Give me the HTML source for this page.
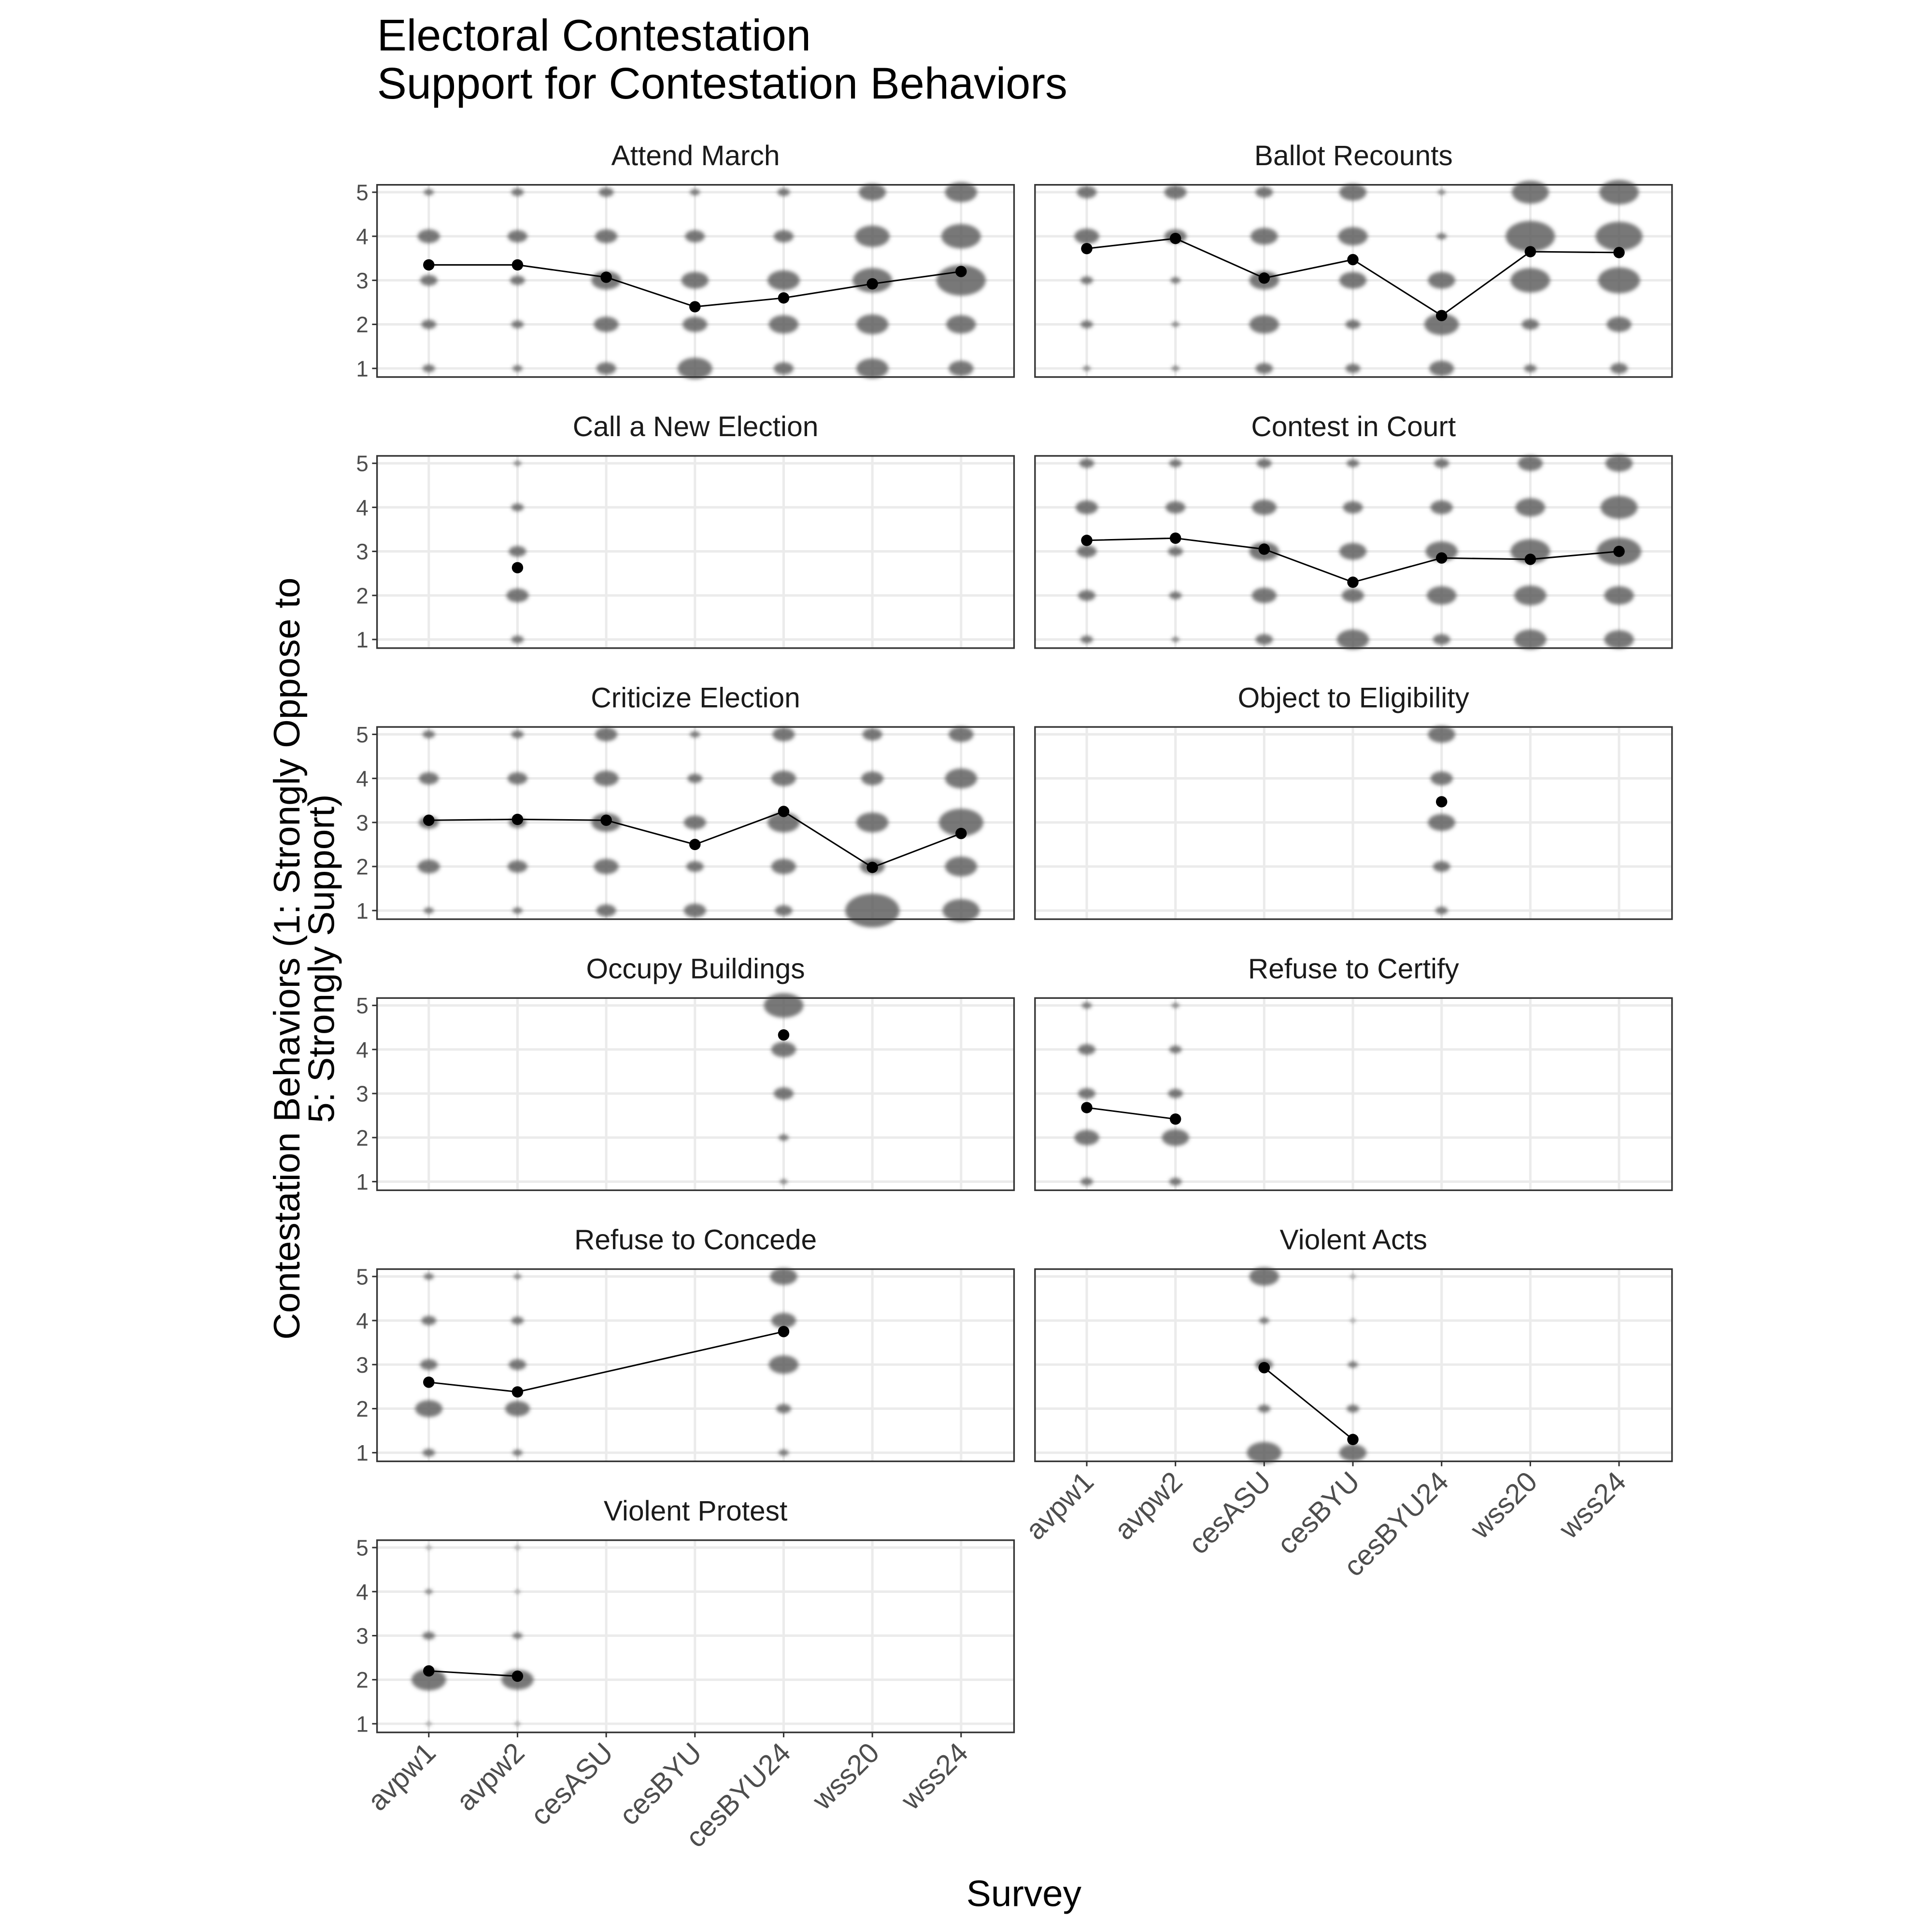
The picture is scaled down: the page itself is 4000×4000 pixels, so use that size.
<!DOCTYPE html>
<html><head><meta charset="utf-8"><style>html,body{margin:0;padding:0;background:#fff}svg{display:block}</style></head>
<body>
<svg id="chart" width="4000" height="4000" viewBox="0 0 1568 1568" xmlns="http://www.w3.org/2000/svg" font-family="Liberation Sans, Arial, sans-serif">
<defs><filter id="blur" x="-50%" y="-50%" width="200%" height="200%"><feGaussianBlur stdDeviation="1.6"/></filter></defs>
<rect width="1568" height="1568" fill="#fff"/>
<text x="306" y="41" font-size="36" fill="#000">Electoral Contestation</text>
<text x="306" y="80" font-size="36" fill="#000">Support for Contestation Behaviors</text>
<text x="831" y="1547" font-size="30" text-anchor="middle">Survey</text>
<g transform="translate(247,778) rotate(-90)">
<text x="0" y="-4" font-size="30" text-anchor="middle">Contestation Behaviors (1: Strongly Oppose to</text>
<text x="0" y="24" font-size="30" text-anchor="middle">5: Strongly Support)</text>
</g>
<g id="panels"></g>
</svg>
<script>
const surveys = ["avpw1","avpw2","cesASU","cesBYU","cesBYU24","wss20","wss24"];
const levels = [5,4,3,2,1];
const panelTitles = ["Attend March","Ballot Recounts","Call a New Election","Contest in Court","Criticize Election","Object to Eligibility","Occupy Buildings","Refuse to Certify","Refuse to Concede","Violent Acts","Violent Protest"];
const sizesAttendMarch = [[4,9,7,6,5],[5,8,6,5,4],[6,9,12,10,8],[4,8,11,10,14],[5,8,13,12,8],[11,14,16,13,13],[13,16,20,12,10]];
const sizesBallotRecounts = [[8,10,5,5,3],[9,9,4,3,3],[7,11,12,12,7],[11,12,11,6,6],[3,4,11,14,10],[15,20,16,7,5],[16,19,17,10,7]];
const sizesNewElection = [null,[3,5,7,9,5],null,null,null,null,null];
const sizesCourt = [[6,9,8,7,5],[5,8,6,5,3],[6,10,12,10,7],[5,8,11,9,13],[6,9,13,12,7],[10,12,16,13,13],[11,15,18,12,12]];
const sizesCriticize = [[5,8,8,9,4],[5,8,7,8,4],[9,10,12,10,8],[4,6,9,7,9],[9,10,13,10,7],[8,9,13,10,22],[10,13,18,13,15]];
const sizesEligibility = [null,null,null,null,[11,9,11,7,5],null,null];
const sizesOccupy = [null,null,null,null,[16,10,8,4,3],null,null];
const sizesCertify = [[4,7,7,10,5],[3,5,6,11,5],null,null,null,null,null];
const sizesConcede = [[4,6,7,11,5],[3,5,7,10,4],null,null,[11,10,12,6,4],null,null];
const sizesViolentActs = [null,null,[12,4,7,5,14],[2,2,4,5,11],null,null,null];
const sizesViolentProtest = [[2,3,5,14,2],[2,2,4,13,2],null,null,null,null,null];
const meansAttendMarch = [3.35,3.35,3.07,2.4,2.6,2.92,3.2];
const meansBallotRecounts = [3.72,3.95,3.05,3.47,2.2,3.65,3.63];
const meansNewElection = [null,2.63,null,null,null,null,null];
const meansCourt = [3.25,3.3,3.05,2.3,2.85,2.82,3.0];
const meansCriticize = [3.05,3.07,3.05,2.5,3.25,1.98,2.75];
const meansEligibility = [null,null,null,null,3.47,null,null];
const meansOccupy = [null,null,null,null,4.33,null,null];
const meansCertify = [2.68,2.42,null,null,null,null,null];
const meansConcede = [2.6,2.38,null,null,3.75,null,null];
const meansViolentActs = [null,null,2.93,1.3,null,null,null];
const meansViolentProtest = [2.2,2.08,null,null,null,null,null];
const allSizes=[sizesAttendMarch,sizesBallotRecounts,sizesNewElection,sizesCourt,sizesCriticize,sizesEligibility,sizesOccupy,sizesCertify,sizesConcede,sizesViolentActs,sizesViolentProtest];
const allMeans=[meansAttendMarch,meansBallotRecounts,meansNewElection,meansCourt,meansCriticize,meansEligibility,meansOccupy,meansCertify,meansConcede,meansViolentActs,meansViolentProtest];
const NS="http://www.w3.org/2000/svg";
const root=document.getElementById('panels');
function mk(tag,attrs,parent){const e=document.createElementNS(NS,tag);for(const k in attrs)e.setAttribute(k,attrs[k]);parent.appendChild(e);return e;}
const PW=517, PH=156;
function slug(s){return s.toLowerCase().replace(/[^a-z0-9]+/g,'-');}
panelTitles.forEach((title,i)=>{
  const col=i%2,row=Math.floor(i/2);
  const px=306+col*534, py=150+row*220;
  const xS=k=>px+42+k*72;
  const yS=v=>py+6+(5-v)*35.75;
  const g=mk('g',{},root);
  
  
  mk('rect',{x:px,y:py,width:PW,height:PH,fill:'#fff'},g);
  levels.forEach(v=>{const l=mk('line',{x1:px,x2:px+PW,y1:yS(v),y2:yS(v),stroke:'#ebebeb','stroke-width':2},g);
    });
  surveys.forEach((s,k)=>{const l=mk('line',{x1:xS(k),x2:xS(k),y1:py,y2:py+PH,stroke:'#ebebeb','stroke-width':2},g);
    });
  const bg2=mk('g',{filter:'url(#blur)'},g);
  allSizes[i].forEach((arr,k)=>{ if(!arr) return;
    arr.forEach((r,j)=>{const e=mk('ellipse',{cx:xS(k),cy:yS(levels[j]),rx:r,ry:r*0.62,fill:'#555','fill-opacity':0.8},bg2);
      });
  });
  const pts=[];allMeans[i].forEach((m,k)=>{if(m!=null)pts.push([xS(k),yS(m)]);});
  if(pts.length>1){const pl=mk('polyline',{points:pts.map(p=>p.join(',')).join(' '),fill:'none',stroke:'#000','stroke-width':1.2},g);
    }
  pts.forEach(p=>{const c=mk('circle',{cx:p[0],cy:p[1],r:4.6,fill:'#000'},g);
    });
  const b=mk('rect',{x:px,y:py,width:PW,height:PH,fill:'none',stroke:'#333','stroke-width':1.3},g);
  
  const t=mk('text',{x:px+PW/2,y:py-16,'font-size':23,'text-anchor':'middle',fill:'#1a1a1a'},g);t.textContent=title;
  
  if(col===0){
    levels.forEach(v=>{mk('line',{x1:px-4,x2:px,y1:yS(v),y2:yS(v),stroke:'#333','stroke-width':1.2},g);
      const tt=mk('text',{x:px-7,y:yS(v)+6.5,'font-size':18,'text-anchor':'end',fill:'#4d4d4d'},g);tt.textContent=v;
      });
  }
  const bottom=(i===10)||(i===9);
  if(bottom){surveys.forEach((s,k)=>{
    mk('line',{x1:xS(k),x2:xS(k),y1:py+PH,y2:py+PH+4,stroke:'#333','stroke-width':1.2},g);
    const x=xS(k)+7,y=py+PH+18;
    const tt=mk('text',{x:x,y:y,'font-size':23,'text-anchor':'end',fill:'#4d4d4d',transform:`rotate(-45 ${x} ${y})`},g);
    tt.textContent=s;
    });}
});
</script>
</body></html>
